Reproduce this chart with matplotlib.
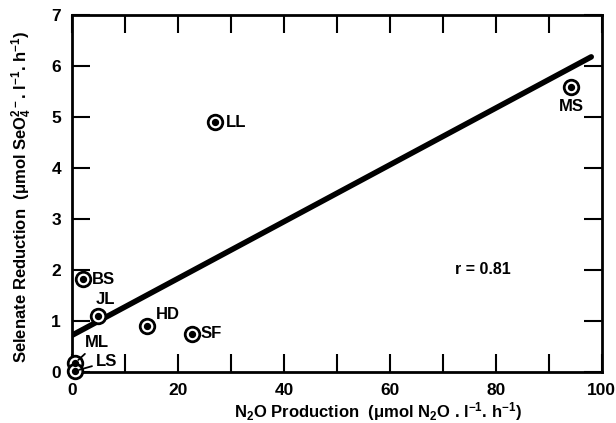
import matplotlib
matplotlib.use("Agg")
import matplotlib.pyplot as plt
import numpy as np

plt.rcParams["font.family"] = ["Liberation Sans", "DejaVu Sans"]
plt.rcParams["font.weight"] = "bold"
plt.rcParams["mathtext.fontset"] = "custom"
plt.rcParams["mathtext.rm"] = "Liberation Sans:bold"
plt.rcParams["mathtext.it"] = "Liberation Sans:bold"
plt.rcParams["mathtext.bf"] = "Liberation Sans:bold"
plt.rcParams["mathtext.default"] = "rm"

# ---- data ----
sites = ["BS", "JL", "HD", "SF", "ML", "LS", "LL", "MS"]
n2o = [2.1, 4.9, 14.2, 22.6, 0.6, 0.6, 27.0, 94.2]
selenate = [1.82, 1.10, 0.90, 0.75, 0.18, 0.02, 4.90, 5.59]
fit_x = [0, 98]
fit_intercept = 0.72
fit_slope = 0.0557
r_value = 0.81

# label offsets (points) for each site
offsets = {
    "BS": (6, 0), "JL": (-2, 12), "HD": (6, 8), "SF": (6, 0),
    "ML": (7, 14.5), "LS": (15, 6.5), "LL": (8, 0), "MS": (0, -14),
}
leaders = {"ML", "LS"}

fig = plt.figure(figsize=(6.16, 4.23), dpi=100)
ax = fig.add_axes([0.117, 0.1206, 0.86, 0.844])

fx = np.array(fit_x)
ax.plot(fx, fit_intercept + fit_slope * fx, color="black", lw=4,
        solid_capstyle="round", zorder=2)

ax.scatter(n2o, selenate, s=110, facecolor="white", edgecolor="black",
           linewidth=2, zorder=3, clip_on=False)
ax.scatter(n2o, selenate, s=18, color="black", zorder=4, clip_on=False)

for name, x, y in zip(sites, n2o, selenate):
    dx, dy = offsets[name]
    ha = "center" if name == "MS" else "left"
    if name in leaders:
        ann = ax.annotate(name, (x, y), xytext=(dx, dy), textcoords="offset points",
                          ha=ha, va="center", fontsize=12, fontweight="bold",
                          arrowprops=dict(arrowstyle="-", color="black", lw=1.3,
                                          shrinkA=1, shrinkB=3), zorder=5)
    else:
        ann = ax.annotate(name, (x, y), xytext=(dx, dy), textcoords="offset points",
                          ha=ha, va="center", fontsize=12, fontweight="bold", zorder=5)
    ann.set_clip_on(False)
    if ann.arrow_patch is not None:
        ann.arrow_patch.set_clip_on(False)

ax.text(72.3, 2.0, f"r = {r_value}", ha="left", va="center",
        fontsize=11.5, fontweight="bold")

ax.set_xlim(0, 100)
ax.set_ylim(0, 7)
ax.set_xticks(np.arange(0, 101, 10))
ax.set_xticklabels([str(v) if v % 20 == 0 else "" for v in range(0, 101, 10)])
ax.set_yticks(range(0, 8))
ax.tick_params(direction="in", length=13, width=1.5, top=True, right=True,
               labelsize=12.5)
ax.tick_params(axis="x", pad=8)
ax.tick_params(axis="y", pad=8)
for lab in ax.get_xticklabels() + ax.get_yticklabels():
    lab.set_fontweight("bold")
for sp in ax.spines.values():
    sp.set_linewidth(2)

ax.set_xlabel(r"N$_2$O Production  ($\mu$mol N$_2$O . l$^{-1}$. h$^{-1}$)",
              fontsize=12, fontweight="bold")
ax.set_ylabel(r"Selenate Reduction  ($\mu$mol SeO$_4^{2-}$. l$^{-1}$. h$^{-1}$)",
              fontsize=12, fontweight="bold")
ax.xaxis.set_label_coords(0.577, -0.08)
ax.yaxis.set_label_coords(-0.072, 0.49)

fig.savefig("out.png", dpi=100)
